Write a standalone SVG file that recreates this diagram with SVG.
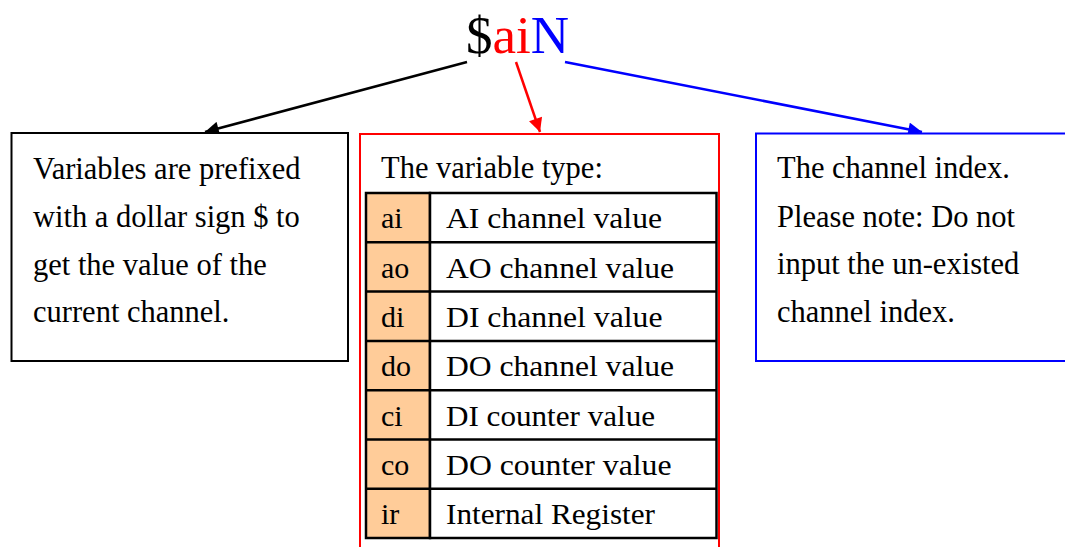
<svg xmlns="http://www.w3.org/2000/svg" width="1065" height="547" viewBox="0 0 1065 547">
<style>
text{font-family:"Liberation Serif","Times New Roman",serif;font-size:30.5px;fill:#000}
.title{font-size:53px}
.box{fill:#fff;stroke-width:2}
.cell{stroke:#000;stroke-width:2.5}
.key{fill:#FFCC99}
.val{fill:#fff}
.conn{fill:none;stroke-width:2.5}
.t{font-size:30px}
</style>
<defs>
<marker id="ab" viewBox="0 0 10 10" refX="10" refY="5" markerWidth="6.5" markerHeight="5.5" markerUnits="strokeWidth" orient="auto"><path d="M0,0L10,5L0,10z" fill="#000"/></marker>
<marker id="ar" viewBox="0 0 10 10" refX="10" refY="5" markerWidth="6.5" markerHeight="5.5" markerUnits="strokeWidth" orient="auto"><path d="M0,0L10,5L0,10z" fill="#f00"/></marker>
<marker id="au" viewBox="0 0 10 10" refX="10" refY="5" markerWidth="6.5" markerHeight="5.5" markerUnits="strokeWidth" orient="auto"><path d="M0,0L10,5L0,10z" fill="#00f"/></marker>
</defs>
<rect width="1065" height="547" fill="#fff"/>
<g id="title">
<text class="title" x="466" y="53"><tspan fill="#000">$</tspan><tspan fill="#f00">ai</tspan><tspan fill="#00f">N</tspan></text>
</g>
<g id="connectors">
<line class="conn" x1="467" y1="62" x2="205" y2="132" stroke="#000" marker-end="url(#ab)"/>
<line class="conn" x1="516" y1="62" x2="540" y2="132" stroke="#f00" marker-end="url(#ar)"/>
<line class="conn" x1="565" y1="62" x2="922" y2="132" stroke="#00f" marker-end="url(#au)"/>
</g>
<g id="prefix">
<rect class="box" x="11.5" y="133" width="336.5" height="228" stroke="#000"/>
<text x="33" y="179">Variables are prefixed</text>
<text x="33" y="227">with a dollar sign $ to</text>
<text x="33" y="275">get the value of the</text>
<text x="33" y="322">current channel.</text>
</g>
<g id="type">
<rect class="box" x="360" y="134" width="359" height="420" stroke="#f00"/>
<text x="381" y="178">The variable type:</text>
<g id="table">
<rect class="cell key" x="366" y="193" width="64" height="345"/>
<rect class="cell val" x="430" y="193" width="286.5" height="345"/>
<line class="cell" x1="366" y1="242.3" x2="716.5" y2="242.3"/>
<line class="cell" x1="366" y1="291.6" x2="716.5" y2="291.6"/>
<line class="cell" x1="366" y1="340.9" x2="716.5" y2="340.9"/>
<line class="cell" x1="366" y1="390.2" x2="716.5" y2="390.2"/>
<line class="cell" x1="366" y1="439.5" x2="716.5" y2="439.5"/>
<line class="cell" x1="366" y1="488.8" x2="716.5" y2="488.8"/>
<text class="t" x="381" y="228.3">ai</text><text class="t" x="446" y="228.3" textLength="216" lengthAdjust="spacingAndGlyphs">AI channel value</text>
<text class="t" x="381" y="277.6">ao</text><text class="t" x="446" y="277.6" textLength="228" lengthAdjust="spacingAndGlyphs">AO channel value</text>
<text class="t" x="381" y="326.9">di</text><text class="t" x="446" y="326.9" textLength="216.5" lengthAdjust="spacingAndGlyphs">DI channel value</text>
<text class="t" x="381" y="376.2">do</text><text class="t" x="446" y="376.2" textLength="228" lengthAdjust="spacingAndGlyphs">DO channel value</text>
<text class="t" x="381" y="425.5">ci</text><text class="t" x="446" y="425.5" textLength="209" lengthAdjust="spacingAndGlyphs">DI counter value</text>
<text class="t" x="381" y="474.8">co</text><text class="t" x="446" y="474.8" textLength="225.5" lengthAdjust="spacingAndGlyphs">DO counter value</text>
<text class="t" x="381" y="524.1">ir</text><text class="t" x="446" y="524.1" textLength="209" lengthAdjust="spacingAndGlyphs">Internal Register</text>
</g>
</g>
<g id="index">
<rect class="box" x="756" y="133.5" width="330" height="227.5" stroke="#00f"/>
<text x="777" y="178">The channel index.</text>
<text x="777" y="226.5">Please note: Do not</text>
<text x="777" y="274">input the un-existed</text>
<text x="777" y="321.5">channel index.</text>
</g>
</svg>
